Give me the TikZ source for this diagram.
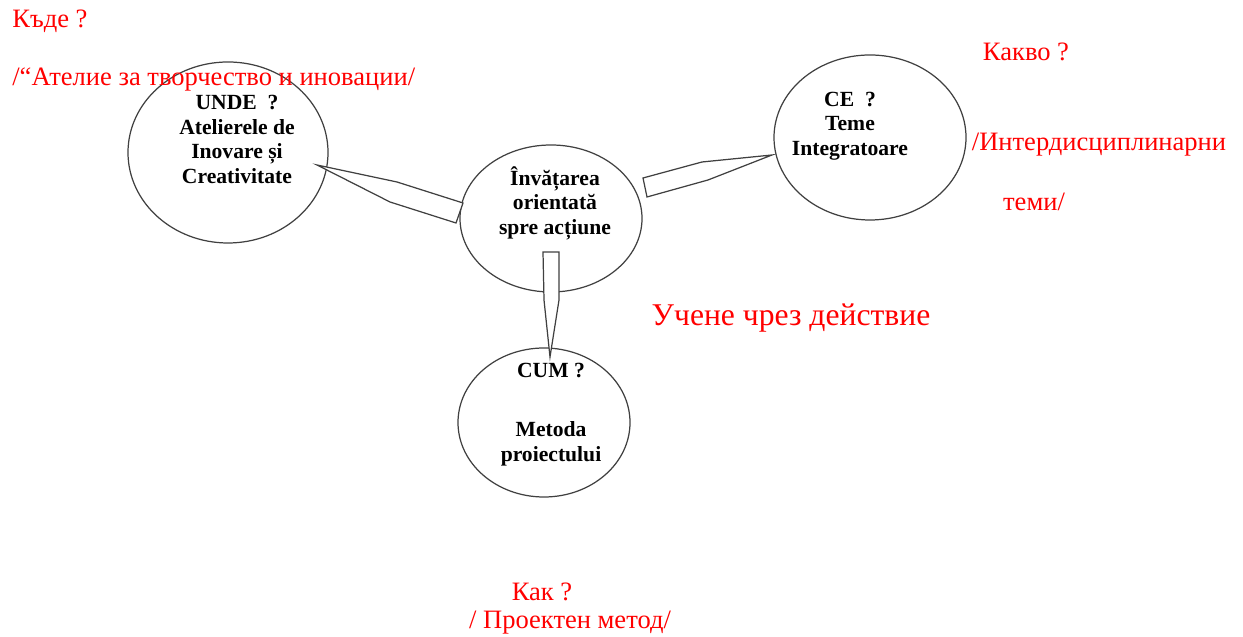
\documentclass[tikz,border=0pt]{standalone}
\usepackage{fontspec}
\setmainfont{Liberation Serif}
\usetikzlibrary{calc}
\usetikzlibrary{shapes.geometric}

\tikzset{
  bubble/.style={ellipse, draw=black!75, line width=0.7pt, inner sep=0pt},
  wedge/.style={draw=black!75, line width=0.7pt, fill=white, line join=miter},
  blk/.style={align=center, font=\bfseries\fontsize{12.3}{13.9}\selectfont, inner sep=0pt},
  redtxt/.style={text=red, font=\fontsize{15.1}{18}\selectfont, inner sep=0pt},
}

\begin{document}
\begin{tikzpicture}

\useasboundingbox (0,0) rectangle (24.86,12.74);

% bubbles
\node[bubble, minimum width=4.0cm, minimum height=3.62cm] (unde) at (4.56,9.69) {};
\node[bubble, minimum width=3.64cm, minimum height=2.94cm] (core) at (11.02,8.37) {};
\node[bubble, minimum width=3.84cm, minimum height=3.30cm] (ce) at (17.40,9.99) {};
\node[bubble, minimum width=3.44cm, minimum height=2.98cm] (cum) at (10.88,4.29) {};

% wedge to UNDE
\coordinate (ltip) at ($(unde.center)+(1.78,-0.25)$);
\coordinate (lup) at (7.94,9.10);
\coordinate (llo) at (7.80,8.70);
\coordinate (lbu) at ($(core.center)+(-1.76,0.31)$);
\coordinate (lbl) at ($(core.center)+(-1.90,-0.09)$);
\draw[wedge] (ltip)--(lup)--(lbu)--(lbl)--(llo)--cycle;

% wedge to CE
\coordinate (rtip) at ($(ce.center)+(-1.96,-0.35)$);
\coordinate (rup) at (14.04,9.50);
\coordinate (rlo) at (14.16,9.14);
\coordinate (rbu) at ($(core.center)+(1.84,0.81)$);
\coordinate (rbl) at ($(core.center)+(1.92,0.43)$);
\draw[wedge] (rtip)--(rup)--(rbu)--(rbl)--(rlo)--cycle;

% wedge to CUM
\coordinate (btip) at ($(cum.center)+(0.12,1.31)$);
\coordinate (bl) at (10.88,6.74);
\coordinate (br) at (11.18,6.74);
\coordinate (btl) at ($(core.center)+(-0.16,-0.67)$);
\coordinate (btr) at ($(core.center)+(0.16,-0.67)$);
\draw[wedge] (btip)--(bl)--(btl)--(btr)--(br)--cycle;

% texts in bubbles
\node[blk] (undetxt) at (4.74,9.95) {UNDE~~?\\Atelierele de\\Inovare și\\Creativitate};
\node[blk] (coretxt) at (11.10,8.68) {Învățarea\\orientată\\spre acțiune};
\node[blk] (cetxt) at (17.00,10.22) {CE~~?\\Teme\\Integratoare};
\node[blk] (cumtxt) at (11.02,4.45) {CUM ?\\[20pt]Metoda\\proiectului};

% red notes
\node[redtxt, anchor=west] (kude) at (0.24,12.32) {Къде ?};
\node[redtxt, anchor=west] (atelie) at (0.24,11.14) {/“Ателие за творчество и иновации/};
\node[redtxt] (kakvo) at (20.52,11.70) {Какво ?};
\node[redtxt] (inter) at (21.98,9.84) {/Интердисциплинарни};
\node[redtxt] (temi) at (20.68,8.70) {теми/};
\node[redtxt, font=\fontsize{18}{22}\selectfont] (uchene) at (15.82,6.38) {Учене чрез действие};
\node[redtxt] (kak) at (10.84,0.90) {Как ?};
\node[redtxt] (proekt) at (11.40,0.28) {/ Проектен метод/};

\end{tikzpicture}
\end{document}
